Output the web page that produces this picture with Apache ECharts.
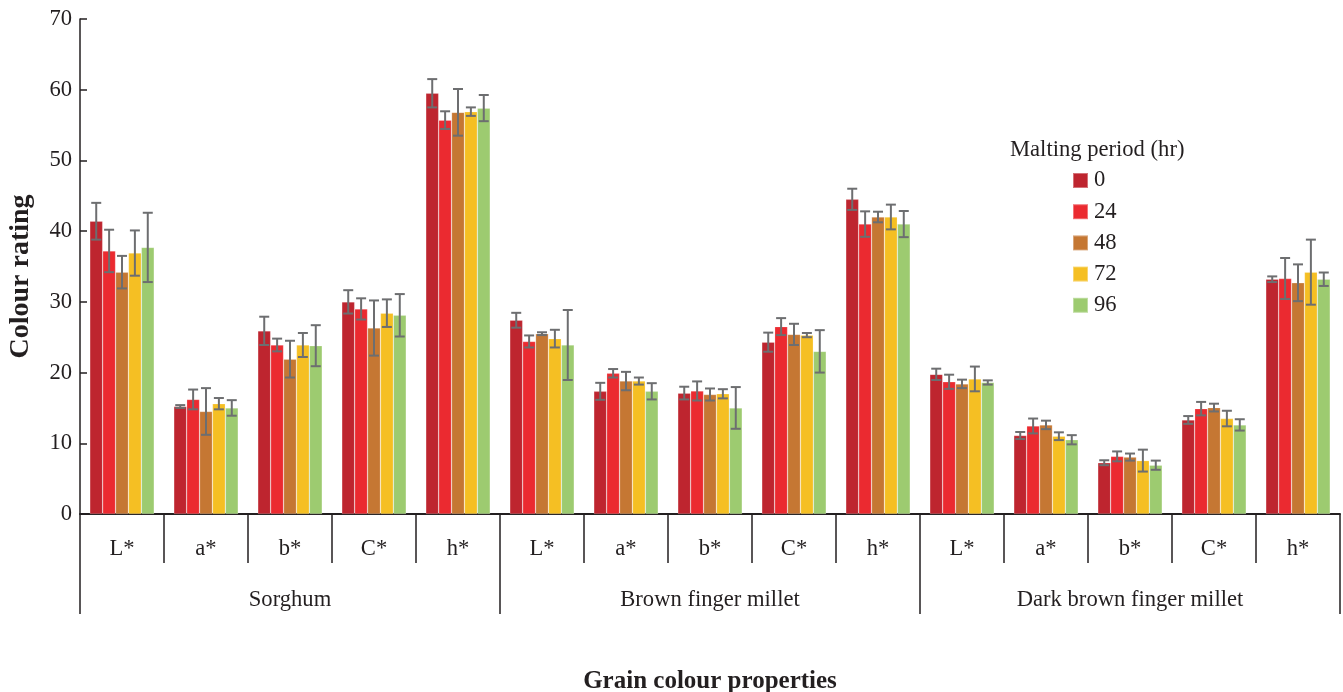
<!DOCTYPE html>
<html>
<head>
<meta charset="utf-8">
<script src="https://cdn.jsdelivr.net/npm/echarts@6/dist/echarts.min.js"></script>
<style>
  html, body { margin: 0; padding: 0; background: #fff; }
  #chart { width: 1343px; height: 692px; }
</style>
</head>
<body>
<div id="chart"></div>
<script>
// Colour properties per grain, one bar per malting period
var properties = ['L*', 'a*', 'b*', 'C*', 'h*', 'L*', 'a*', 'b*', 'C*', 'h*', 'L*', 'a*', 'b*', 'C*', 'h*'];
var grains = ['Sorghum', 'Brown finger millet', 'Dark brown finger millet'];
var periods = ['0', '24', '48', '72', '96'];
var yTicks = { min: 0, max: 70, step: 10 };

// Means
var mean0  = [41.4, 15.2, 25.9, 30.0, 59.5, 27.4, 17.35, 17.1, 24.3, 44.5, 19.75, 11.1, 7.25, 13.3, 33.2];
var mean24 = [37.2, 16.2, 23.9, 29.0, 55.7, 24.4, 19.9, 17.4, 26.5, 41.0, 18.7, 12.45, 8.15, 14.9, 33.3];
var mean48 = [34.2, 14.5, 21.9, 26.3, 56.8, 25.5, 18.8, 16.9, 25.4, 42.0, 18.4, 12.6, 8.05, 15.05, 32.7];
var mean72 = [36.9, 15.6, 23.9, 28.4, 56.9, 24.8, 18.8, 17.0, 25.3, 42.0, 19.1, 11.0, 7.55, 13.5, 34.2];
var mean96 = [37.7, 15.0, 23.8, 28.1, 57.4, 23.9, 17.35, 15.0, 23.0, 41.0, 18.6, 10.5, 6.9, 12.6, 33.2];

// Standard deviations (error bar half-lengths)
var sd0  = [2.6, 0.2, 2.0, 1.65, 2.0, 1.05, 1.2, 0.9, 1.35, 1.5, 0.8, 0.5, 0.35, 0.55, 0.4];
var sd24 = [3.0, 1.4, 0.9, 1.5, 1.25, 0.85, 0.6, 1.35, 1.2, 1.8, 1.0, 1.05, 0.7, 0.95, 2.9];
var sd48 = [2.3, 3.3, 2.6, 3.9, 3.3, 0.2, 1.3, 0.85, 1.5, 0.75, 0.6, 0.6, 0.5, 0.55, 2.6];
var sd72 = [3.2, 0.8, 1.7, 1.95, 0.6, 1.25, 0.5, 0.65, 0.3, 1.75, 1.75, 0.55, 1.55, 1.1, 4.6];
var sd96 = [4.9, 1.1, 2.9, 3.0, 1.85, 4.95, 1.15, 2.95, 3.0, 1.85, 0.3, 0.65, 0.65, 0.8, 0.95];

var means = [mean0, mean24, mean48, mean72, mean96];
var sds = [sd0, sd24, sd48, sd72, sd96];
var colors = ['#BE252F', '#EB2A30', '#C57733', '#F5BF23', '#9DCB70'];

var FONT = '"Liberation Serif", "Times New Roman", serif';
var INK = '#231f20';
var CAT_GAP = 0.233;

var series = periods.map(function (p, i) {
  return {
    name: p,
    type: 'bar',
    data: means[i],
    barGap: '0%',
    barCategoryGap: (CAT_GAP * 100) + '%',
    itemStyle: { color: colors[i], borderColor: 'rgba(255,255,255,0.35)', borderWidth: 0.6 },
    emphasis: { disabled: true },
    z: 2
  };
});

// Error bars: [category index, period index, low, high]
var errData = [];
periods.forEach(function (p, s) {
  means[s].forEach(function (m, c) {
    errData.push([c, s, m - sds[s][c], m + sds[s][c]]);
  });
});

series.push({
  type: 'custom',
  name: 'sd',
  data: errData,
  encode: { x: 0, y: [2, 3] },
  z: 5,
  silent: true,
  renderItem: function (params, api) {
    var c = api.value(0), s = api.value(1);
    var band = api.size([1, 0])[0];
    var barW = band * (1 - CAT_GAP) / periods.length;
    var cx = api.coord([c, 0])[0] + (s - (periods.length - 1) / 2) * barW;
    var yLo = api.coord([c, api.value(2)])[1];
    var yHi = api.coord([c, api.value(3)])[1];
    var cap = 5;
    var style = { stroke: '#6d6e70', lineWidth: 2 };
    return {
      type: 'group',
      children: [
        { type: 'line', shape: { x1: cx, y1: yLo, x2: cx, y2: yHi }, style: style },
        { type: 'line', shape: { x1: cx - cap, y1: yHi, x2: cx + cap, y2: yHi }, style: style },
        { type: 'line', shape: { x1: cx - cap, y1: yLo, x2: cx + cap, y2: yLo }, style: style }
      ]
    };
  }
});

var chart = echarts.init(document.getElementById('chart'), null, { renderer: 'canvas' });
chart.setOption({
  animation: false,
  backgroundColor: '#ffffff',
  color: colors,
  textStyle: { fontFamily: FONT, color: INK },
  title: {
    text: 'Malting period (hr)',
    left: 1010,
    top: 139,
    padding: 0,
    textStyle: { fontFamily: FONT, fontSize: 22.6, fontWeight: 'normal', color: INK }
  },
  legend: {
    data: periods,
    orient: 'vertical',
    left: 1072,
    top: 169,
    padding: 0,
    itemWidth: 15,
    itemHeight: 15,
    itemGap: 8.2,
    icon: 'rect',
    textStyle: { fontFamily: FONT, fontSize: 22.6, color: INK, padding: [0, 0, 0, 1] }
  },
  grid: { left: 80, right: 3, top: 19, bottom: 178, containLabel: false, outerBoundsMode: 'none' },
  xAxis: [
    {
      type: 'category',
      data: properties,
      gridIndex: 0,
      position: 'bottom',
      axisLine: { show: true, lineStyle: { color: INK, width: 2 } },
      axisTick: { show: true, interval: 0, length: 49, lineStyle: { color: INK, width: 1.5 } },
      axisLabel: { interval: 0, margin: 24, fontFamily: FONT, fontSize: 22.6, color: INK },
      name: 'Grain colour properties',
      nameLocation: 'middle',
      nameGap: 155,
      nameTextStyle: { fontFamily: FONT, fontSize: 25, fontWeight: 'bold', color: INK }
    },
    {
      type: 'category',
      data: grains,
      gridIndex: 0,
      position: 'bottom',
      offset: 0,
      axisLine: { show: false },
      axisTick: { show: true, interval: 0, length: 100, lineStyle: { color: INK, width: 1.5 } },
      axisLabel: { interval: 0, margin: 75, fontFamily: FONT, fontSize: 22.6, color: INK }
    }
  ],
  yAxis: {
    type: 'value',
    min: yTicks.min,
    max: yTicks.max,
    interval: yTicks.step,
    axisLine: { show: true, lineStyle: { color: INK, width: 1.5 } },
    axisTick: { show: true, inside: true, length: 7, lineStyle: { color: INK, width: 1.5 } },
    axisLabel: { margin: 8, fontFamily: FONT, fontSize: 22.6, color: INK },
    splitLine: { show: false },
    name: 'Colour rating',
    nameLocation: 'middle',
    nameGap: 45,
    nameTextStyle: { fontFamily: FONT, fontSize: 28, fontWeight: 'bold', color: INK, padding: [0, 20, 0, 0] }
  },
  series: series
});
</script>
</body>
</html>
